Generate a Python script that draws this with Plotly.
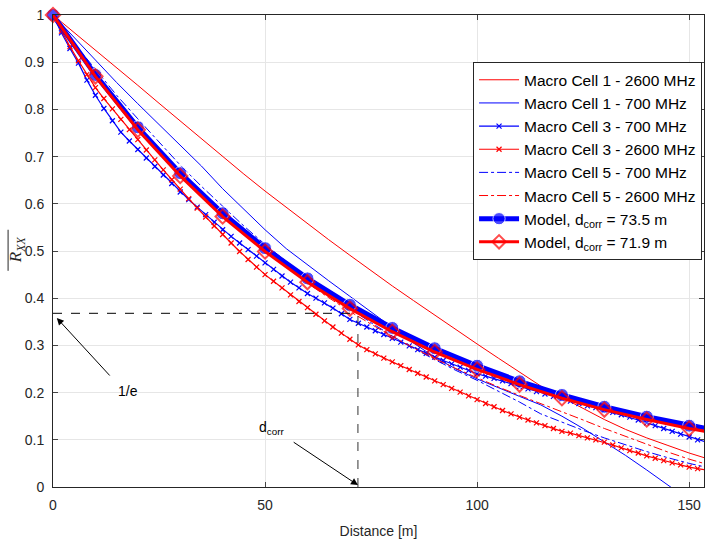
import plotly.graph_objects as go

# ---------------- data ----------------
d5 = [0, 5, 10, 15, 20, 25, 30, 35, 40, 45, 50, 55, 60, 65, 70, 75, 80, 85, 90, 95,
      100, 105, 110, 115, 120, 125, 130, 135, 140, 145, 150, 155]

mc1_2600 = [1.000, 0.963, 0.926, 0.889, 0.851, 0.813, 0.775, 0.737, 0.699, 0.663,
            0.627, 0.592, 0.558, 0.524, 0.491, 0.458, 0.426, 0.395, 0.364, 0.333,
            0.303, 0.273, 0.243, 0.214, 0.190, 0.166, 0.143, 0.122, 0.104, 0.088,
            0.072, 0.058]

mc1_700 = [1.000, 0.952, 0.904, 0.857, 0.812, 0.768, 0.725, 0.680, 0.632, 0.588,
           0.545, 0.505, 0.470, 0.437, 0.404, 0.371, 0.338, 0.305, 0.275, 0.250,
           0.229, 0.210, 0.192, 0.174, 0.150, 0.124, 0.096, 0.067, 0.036, 0.004,
           -0.030, -0.060]

mc5_700 = [1.000, 0.940, 0.885, 0.830, 0.780, 0.730, 0.682, 0.637, 0.594, 0.553,
           0.514, 0.477, 0.442, 0.409, 0.378, 0.348, 0.320, 0.294, 0.270, 0.247,
           0.226, 0.203, 0.180, 0.155, 0.137, 0.120, 0.104, 0.089, 0.075, 0.062,
           0.050, 0.040]

mc5_2600 = [1.000, 0.935, 0.872, 0.815, 0.762, 0.712, 0.664, 0.619, 0.577, 0.537,
            0.500, 0.465, 0.432, 0.401, 0.372, 0.345, 0.319, 0.295, 0.272, 0.251,
            0.231, 0.212, 0.194, 0.177, 0.160, 0.142, 0.124, 0.107, 0.090, 0.074,
            0.059, 0.046]

d2 = list(range(0, 156, 2))

mc3_700 = [1.000, 0.962, 0.929, 0.898, 0.862, 0.830, 0.802, 0.776, 0.752, 0.733,
           0.715, 0.697, 0.679, 0.661, 0.643, 0.625, 0.609, 0.593, 0.577, 0.561,
           0.545, 0.531, 0.517, 0.503, 0.489, 0.475, 0.461, 0.447, 0.434, 0.422,
           0.410, 0.400, 0.390, 0.379, 0.367, 0.355, 0.347, 0.339, 0.331, 0.323,
           0.315, 0.307, 0.299, 0.291, 0.283, 0.275, 0.268, 0.261, 0.254, 0.247,
           0.240, 0.235, 0.230, 0.225, 0.219, 0.213, 0.208, 0.202, 0.197, 0.192,
           0.187, 0.182, 0.177, 0.172, 0.168, 0.163, 0.158, 0.153, 0.148, 0.142,
           0.136, 0.130, 0.124, 0.118, 0.112, 0.106, 0.100, 0.095]

mc3_2600 = [1.000, 0.966, 0.933, 0.903, 0.874, 0.846, 0.823, 0.801, 0.779, 0.757,
            0.736, 0.714, 0.693, 0.672, 0.651, 0.631, 0.611, 0.591, 0.572, 0.553,
            0.535, 0.517, 0.499, 0.482, 0.466, 0.450, 0.436, 0.422, 0.407, 0.393,
            0.380, 0.366, 0.352, 0.339, 0.326, 0.313, 0.301, 0.291, 0.282, 0.273,
            0.265, 0.257, 0.249, 0.241, 0.233, 0.225, 0.217, 0.209, 0.201, 0.193,
            0.185, 0.177, 0.170, 0.162, 0.155, 0.148, 0.142, 0.136, 0.130, 0.124,
            0.118, 0.114, 0.109, 0.104, 0.100, 0.095, 0.089, 0.083, 0.077, 0.072,
            0.066, 0.061, 0.056, 0.051, 0.047, 0.042, 0.039, 0.036]

d_model = [0, 10, 20, 30, 40, 50, 60, 70, 80, 90, 100, 110, 120, 130, 140, 150, 160]
model_735 = [1.000, 0.873, 0.762, 0.665, 0.580, 0.506, 0.442, 0.386, 0.337, 0.294,
             0.257, 0.224, 0.195, 0.170, 0.149, 0.130, 0.113]
model_719 = [1.000, 0.870, 0.757, 0.659, 0.573, 0.499, 0.434, 0.378, 0.329, 0.286,
             0.249, 0.217, 0.188, 0.164, 0.143, 0.124, 0.108]

inv_e = 0.368
d_corr = 71.9

x_ticks = [0, 50, 100, 150]
y_ticks = [0, 0.1, 0.2, 0.3, 0.4, 0.5, 0.6, 0.7, 0.8, 0.9, 1]
y_ticklabels = ["0", "0.1", "0.2", "0.3", "0.4", "0.5", "0.6", "0.7", "0.8", "0.9", "1"]

# ---------------- figure ----------------
RED = "#ff0000"
BLUE = "#0000ff"
FONT = "Liberation Sans, Arial, sans-serif"

fig = go.Figure()

fig.add_trace(go.Scatter(x=d5, y=mc1_2600, mode="lines", name="Macro Cell 1 - 2600 MHz",
                         line=dict(color=RED, width=1)))
fig.add_trace(go.Scatter(x=d5, y=mc1_700, mode="lines", name="Macro Cell 1 - 700 MHz",
                         line=dict(color=BLUE, width=1)))
fig.add_trace(go.Scatter(x=d2, y=mc3_700, mode="lines+markers", name="Macro Cell 3 - 700 MHz",
                         line=dict(color=BLUE, width=1.2),
                         marker=dict(symbol="x-thin", size=5, color=BLUE,
                                     line=dict(color=BLUE, width=1.2))))
fig.add_trace(go.Scatter(x=d2, y=mc3_2600, mode="lines+markers", name="Macro Cell 3 - 2600 MHz",
                         line=dict(color=RED, width=1.2),
                         marker=dict(symbol="x-thin", size=5, color=RED,
                                     line=dict(color=RED, width=1.2))))
fig.add_trace(go.Scatter(x=d5, y=mc5_700, mode="lines", name="Macro Cell 5 - 700 MHz",
                         line=dict(color=BLUE, width=1, dash="dashdot")))
fig.add_trace(go.Scatter(x=d5, y=mc5_2600, mode="lines", name="Macro Cell 5 - 2600 MHz",
                         line=dict(color=RED, width=1, dash="dashdot")))

n_m = len(d_model)
fig.add_trace(go.Scatter(x=d_model, y=model_735, mode="lines+markers",
                         name="Model, d<sub>corr</sub> = 73.5 m",
                         line=dict(color=BLUE, width=5),
                         marker=dict(symbol="circle", size=[13] * (n_m - 1) + [0], color=BLUE),
                         cliponaxis=False))
fig.add_trace(go.Scatter(x=d_model, y=model_719, mode="lines+markers",
                         name="Model, d<sub>corr</sub> = 71.9 m",
                         line=dict(color=RED, width=3),
                         marker=dict(symbol="diamond-open", size=[11] * (n_m - 1) + [0], color=RED,
                                     line=dict(color=RED, width=2)),
                         cliponaxis=False))

# dashed guide lines
fig.add_shape(type="line", x0=0, x1=d_corr, y0=inv_e, y1=inv_e, xref="x", yref="y",
              line=dict(color="black", width=1, dash="dash"), layer="above")
fig.add_shape(type="line", x0=d_corr, x1=d_corr, y0=0, y1=inv_e, xref="x", yref="y",
              line=dict(color="#333333", width=1, dash="dash"), layer="above")

# arrows
fig.add_annotation(x=0.9, y=0.358, ax=13.7, ay=0.233, xref="x", yref="y",
                   axref="x", ayref="y", text="", showarrow=True,
                   arrowhead=2, arrowsize=1.4, arrowwidth=1, arrowcolor="black")
fig.add_annotation(x=71.9, y=0.004, ax=56.4, ay=0.097, xref="x", yref="y",
                   axref="x", ayref="y", text="", showarrow=True,
                   arrowhead=2, arrowsize=1.4, arrowwidth=1, arrowcolor="black")
fig.add_annotation(x=17.6, y=0.204, xref="x", yref="y", text="1/e", showarrow=False,
                   font=dict(family=FONT, size=14, color="black"))
fig.add_annotation(x=51.5, y=0.124, xref="x", yref="y", text="d<sub>corr</sub>",
                   showarrow=False, font=dict(family=FONT, size=14, color="black"))

# y-axis label: overlined R_XX
fig.add_annotation(x=-0.055, y=0.502, xref="paper", yref="paper", xanchor="center",
                   text="<i>R<sub>XX</sub></i>", showarrow=False, textangle=-90,
                   font=dict(family="Liberation Serif, Times New Roman, serif", size=17,
                             color="#262626"))
fig.add_shape(type="line", xref="paper", yref="paper", x0=-0.069, x1=-0.069,
              y0=0.458, y1=0.545, line=dict(color="#262626", width=1))

fig.update_layout(
    width=705, height=543,
    margin=dict(l=53, r=1, t=15, b=56),
    paper_bgcolor="white", plot_bgcolor="white",
    font=dict(family=FONT, size=14, color="#262626"),
    showlegend=True,
    legend=dict(x=0.997, y=0.900, xanchor="right", yanchor="top",
                bgcolor="white", bordercolor="#262626", borderwidth=1,
                font=dict(family=FONT, size=15.5, color="black"),
                itemwidth=40, tracegroupgap=0),
    xaxis=dict(range=[0, 153.5], tickvals=x_ticks, ticks="inside", ticklen=5,
               showline=True, linecolor="#262626", linewidth=1, mirror="ticks",
               showgrid=True, gridcolor="#e6e6e6", gridwidth=1, zeroline=False,
               ticklabelstandoff=5,
               title=dict(text="Distance [m]", font=dict(size=14), standoff=14),
               tickfont=dict(size=14, color="#262626")),
    yaxis=dict(range=[0, 1], tickvals=y_ticks, ticktext=y_ticklabels, ticks="inside",
               ticklen=5, showline=True, linecolor="#262626", linewidth=1, mirror="ticks",
               showgrid=True, gridcolor="#e6e6e6", gridwidth=1, zeroline=False,
               ticklabelstandoff=5,
               tickfont=dict(size=14, color="#262626")),
)

fig.write_html("out.html", config={"displayModeBar": False},
               post_script="document.body.style.margin='0';")
